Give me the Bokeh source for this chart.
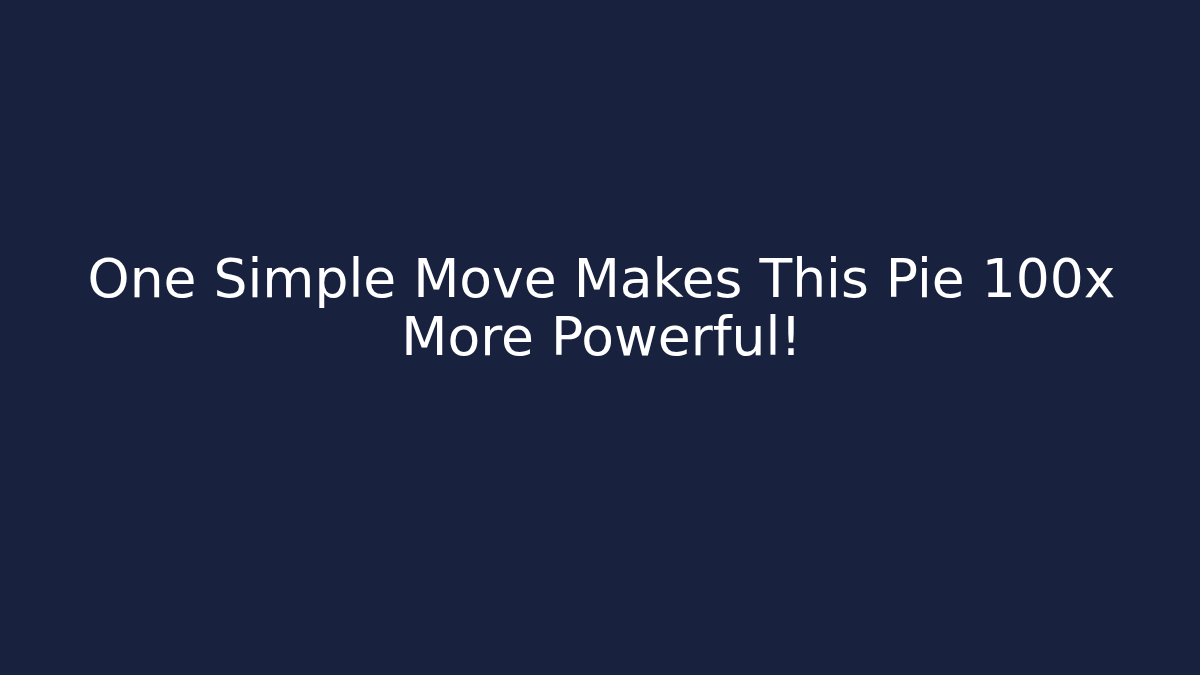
from bokeh.plotting import figure
from bokeh.models import Range1d, ColumnDataSource
from bokeh.core.properties import value
from bokeh.embed import file_html
from bokeh.resources import INLINE

title_lines = ["One Simple Move Makes This Pie 100x", "More Powerful!"]

BG = "#18223f"

p = figure(width=1184, height=659, output_backend="svg", toolbar_location=None,
           x_range=Range1d(8, 1192), y_range=Range1d(8, 667),
           background_fill_color=BG, border_fill_color=BG, min_border=0)
p.axis.visible = False
p.grid.visible = False
p.outline_line_color = None

src = ColumnDataSource(dict(x=[609, 609], y=[389, 331], t=title_lines))
p.text(x="x", y="y", text="t", source=src, text_color="white",
       text_font=value("DejaVu Sans"), text_font_size="53.5px",
       text_align="center", text_baseline="middle")

html = file_html(p, INLINE)
html = html.replace("<head>", "<head><style>html,body{background:%s;}</style>" % BG, 1)
open("out.html", "w").write(html)
